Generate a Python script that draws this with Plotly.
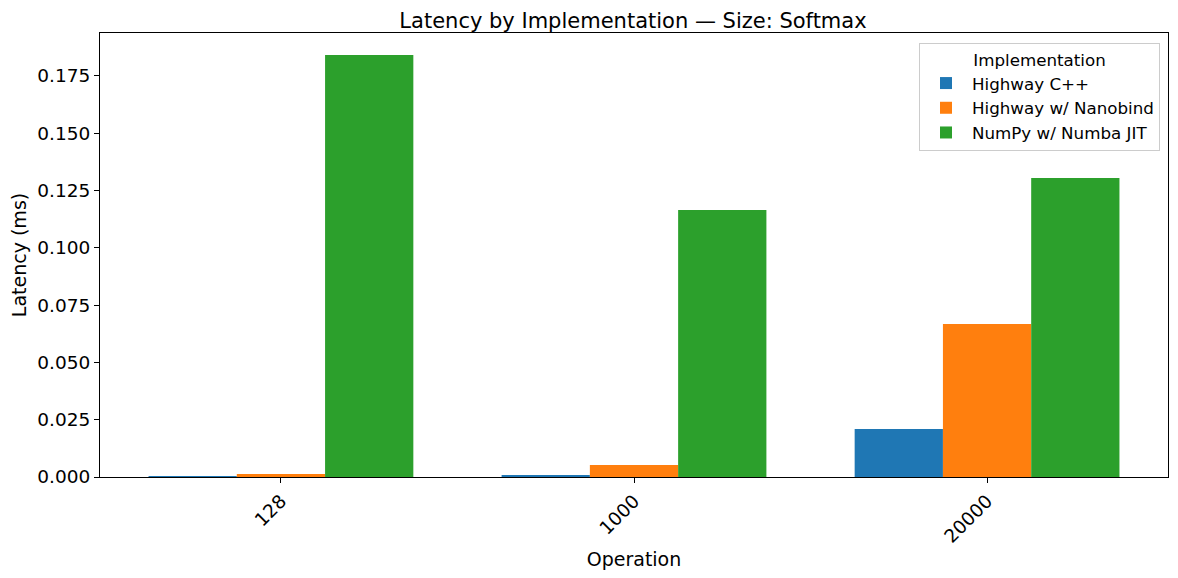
import plotly.graph_objects as go

categories = ["128", "1000", "20000"]
series_names = ["Highway C++", "Highway w/ Nanobind", "NumPy w/ Numba JIT"]
highway_cpp = [0.0003, 0.0008, 0.0209]
highway_nanobind = [0.0013, 0.0052, 0.0667]
numpy_numba = [0.1841, 0.1165, 0.1304]
colors = ["#1f77b4", "#ff7f0e", "#2ca02c"]
y_ticks = [0.0, 0.025, 0.05, 0.075, 0.1, 0.125, 0.15, 0.175]

fig = go.Figure()
for name, vals, c in zip(series_names, [highway_cpp, highway_nanobind, numpy_numba], colors):
    fig.add_trace(go.Bar(x=list(range(len(categories))), y=vals, name=name,
                         marker=dict(color=c, line=dict(width=0))))

font = "DejaVu Sans, sans-serif"
W, H = 1170, 570
fig.update_layout(
    width=W, height=H,
    margin=dict(l=92, r=10, t=25, b=101),
    paper_bgcolor="white", plot_bgcolor="white",
    barmode="group", bargap=0.25, bargroupgap=0,
    font=dict(family=font, size=18.5, color="black"),
    title=dict(text="Latency by Implementation — Size: Softmax", x=(633 - 8) / W, xanchor="center",
               y=1 - 13 / H, yanchor="middle", font=dict(size=21, family=font)),
    legend=dict(title=dict(text="Implementation", side="top center", font=dict(size=16.7)),
                x=0.9925, xanchor="right", y=0.9775, yanchor="top",
                bordercolor="#cccccc", borderwidth=1, bgcolor="rgba(255,255,255,0.8)",
                font=dict(size=16.7), itemsizing="constant", itemwidth=42, tracegroupgap=0),
    showlegend=True,
)
fig.update_xaxes(
    range=[-0.5125, 2.5125], tickmode="array", tickvals=list(range(len(categories))),
    ticktext=categories, tickangle=-45, ticks="outside", ticklen=5, tickcolor="black",
    showline=True, linecolor="black", linewidth=1, mirror=True, showgrid=False,
    zeroline=False, tickfont=dict(size=18.5),
    title=dict(text="Operation", font=dict(size=19), standoff=6),
)
fig.update_yaxes(
    range=[0, 0.1937], tickmode="array", tickvals=y_ticks,
    ticktext=[f"{v:.3f}" for v in y_ticks], ticks="outside", ticklen=5, tickcolor="black",
    showline=True, linecolor="black", linewidth=1, mirror=True, showgrid=False,
    zeroline=False, tickfont=dict(size=18.5),
    title=dict(text="Latency (ms)", font=dict(size=19), standoff=6),
)
fig.write_html("out.html")
